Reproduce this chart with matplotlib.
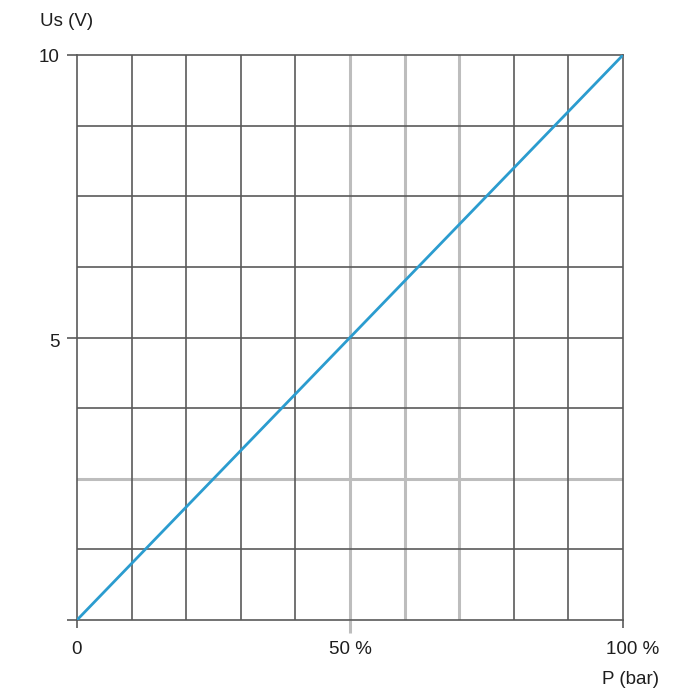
import matplotlib
matplotlib.use("Agg")
import matplotlib.pyplot as plt
import matplotlib.transforms as mtransforms

plt.rcParams['font.family'] = ['Liberation Sans', 'DejaVu Sans']

# Output signal versus pressure (linear transfer curve)
pressure_pct = [0, 100]
voltage = [0, 10]

x_ticks = [0, 50, 100]
x_tick_labels = ["0", "50 %", "100 %"]
y_ticks = [0, 5, 10]
y_tick_labels = ["", "5", "10"]

grid_x_dark = [10, 20, 30, 40, 80, 90]
grid_x_light = [50, 60, 70]
grid_y_dark = [1.25, 3.75, 5.0, 6.25, 7.5, 8.75]
grid_y_light = [2.5]

dark = "#5a5a5a"
light = "#bdbdbd"
blue = "#2b9ccf"
text_color = "#1e1e1e"
fs = 13.5

fig = plt.figure(figsize=(7, 7), dpi=100)
ax = fig.add_axes([77 / 700, 1 - 620 / 700, 546 / 700, 565 / 700])
ax.set_xlim(0, 100)
ax.set_ylim(0, 10)

for gx in grid_x_light:
    ax.axvline(gx, color=light, lw=2.2, zorder=1)
for gy in grid_y_light:
    ax.axhline(gy, color=light, lw=2.2, zorder=1)
for gx in grid_x_dark:
    ax.axvline(gx, color=dark, lw=1.2, zorder=2)
for gy in grid_y_dark:
    ax.axhline(gy, color=dark, lw=1.2, zorder=2)

ax.plot(pressure_pct, voltage, color=blue, lw=2.0, zorder=3, solid_capstyle="butt")

for side in ["left", "bottom", "top", "right"]:
    ax.spines[side].set_color(dark)
    ax.spines[side].set_linewidth(1.2)

ax.set_xticks(x_ticks)
ax.set_xticklabels(x_tick_labels)
ax.set_yticks(y_ticks)
ax.set_yticklabels(y_tick_labels)
ax.tick_params(axis="x", length=6, width=1.2, color=dark, pad=9, labelsize=fs, labelcolor=text_color)
ax.tick_params(axis="y", length=7.5, width=1.2, color=dark, pad=5, labelsize=fs, labelcolor=text_color)

# the 50 % tick continues the light grid line
mid_line = ax.xaxis.get_major_ticks()[1].tick1line
mid_line.set_markeredgecolor(light)
mid_line.set_markeredgewidth(2.2)
mid_line.set_markersize(9)

# nudge the last x label to the right of its tick
lbls = ax.get_xticklabels()
lbls[-1].set_transform(lbls[-1].get_transform() +
                       mtransforms.ScaledTranslation(10 / 100, 0, fig.dpi_scale_trans))
# the "5" sits slightly below its tick
ylbls = ax.get_yticklabels()
ylbls[1].set_transform(ylbls[1].get_transform() +
                       mtransforms.ScaledTranslation(0, -3 / 100, fig.dpi_scale_trans))

fig.text(67 / 700, 1 - 22 / 700, "Us (V)", ha="center", va="center", fontsize=fs, color=text_color)
fig.text(631 / 700, 1 - 679 / 700, "P (bar)", ha="center", va="center", fontsize=fs, color=text_color)

fig.savefig("out.png", dpi=100, facecolor="white")
